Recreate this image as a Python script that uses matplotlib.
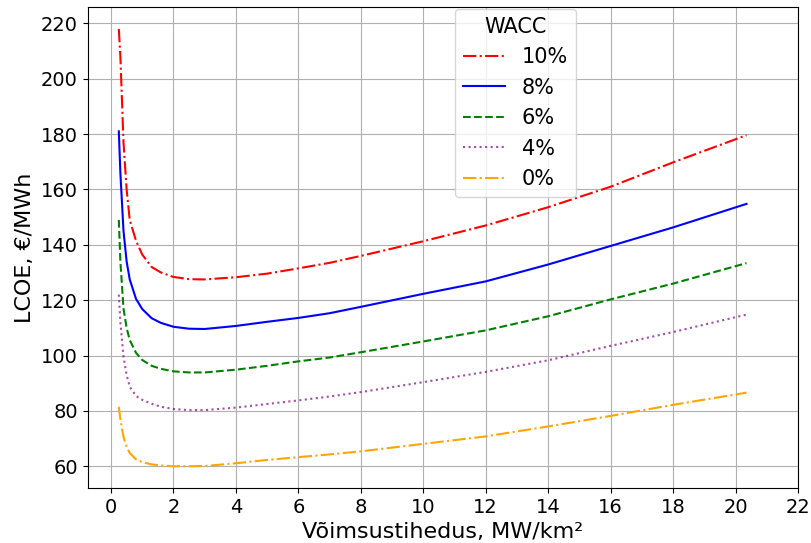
import matplotlib
matplotlib.use('Agg')
import matplotlib.pyplot as plt

# power density, MW/km2
density = [0.25, 0.3, 0.4, 0.5, 0.6, 0.8, 1.0, 1.3, 1.6, 2.0, 2.5, 3.0,
           4.0, 5.0, 6.0, 7.0, 8.0, 10.0, 12.0, 14.0, 16.0, 18.0, 20.35]

# LCOE in EUR/MWh for each WACC
lcoe_10 = [218, 208, 177, 160, 149, 141.5, 136.5, 132, 130, 128.4, 127.6, 127.5,
           128.3, 129.6, 131.5, 133.5, 136, 141.3, 147, 153.6, 161, 169.8, 179.6]
lcoe_8 = [181, 166, 145, 134, 127.5, 120.5, 116.8, 113.5, 111.8, 110.4, 109.7, 109.6,
          110.7, 112.2, 113.6, 115.3, 117.6, 122.3, 126.8, 132.9, 139.6, 146.3, 154.8]
lcoe_6 = [149, 134, 117, 110, 105.6, 101, 98.4, 96.3, 95.2, 94.3, 93.9, 93.9,
          94.9, 96.3, 97.9, 99.3, 101.2, 105.1, 109.1, 114.2, 120.3, 126, 133.4]
lcoe_4 = [122, 112, 99.6, 93, 88.7, 85.4, 84, 82.6, 81.5, 80.7, 80.3, 80.3,
          81.2, 82.5, 83.8, 85.2, 86.8, 90.4, 94.1, 98.3, 103.5, 108.5, 114.8]
lcoe_0 = [81.5, 77, 70.6, 67, 64.8, 62.5, 61.5, 60.7, 60.3, 60.0, 60.0, 60.1,
          61.1, 62.3, 63.3, 64.3, 65.4, 68.1, 70.8, 74.4, 78.2, 82.2, 86.6]

fig, ax = plt.subplots(figsize=(8.11, 5.43), dpi=100)
fig.subplots_adjust(left=0.108, right=0.984, top=0.987, bottom=0.101)

ax.plot(density, lcoe_10, color='red', linestyle='-.', lw=1.5, label='10%')
ax.plot(density, lcoe_8, color='blue', linestyle='-', lw=1.5, label='8%')
ax.plot(density, lcoe_6, color='green', linestyle='--', lw=1.5, label='6%')
ax.plot(density, lcoe_4, color='purple', alpha=0.7, linestyle=':', lw=1.5, label='4%')
ax.plot(density, lcoe_0, color='orange', linestyle='-.', lw=1.5, label='0%')

ax.set_xlim(-0.75, 22)
ax.set_xticks(range(0, 23, 2))
ax.set_yticks(range(60, 221, 20))
ax.tick_params(labelsize=14)
ax.grid(True)
ax.set_xlabel('Võimsustihedus, MW/km²', fontsize=16)
ax.set_ylabel('LCOE, €/MWh', fontsize=16)
ax.legend(title='WACC', fontsize=15, title_fontsize=15, loc='upper left',
          bbox_to_anchor=(0.517, 0.997), borderaxespad=0)

plt.savefig('out.png')
